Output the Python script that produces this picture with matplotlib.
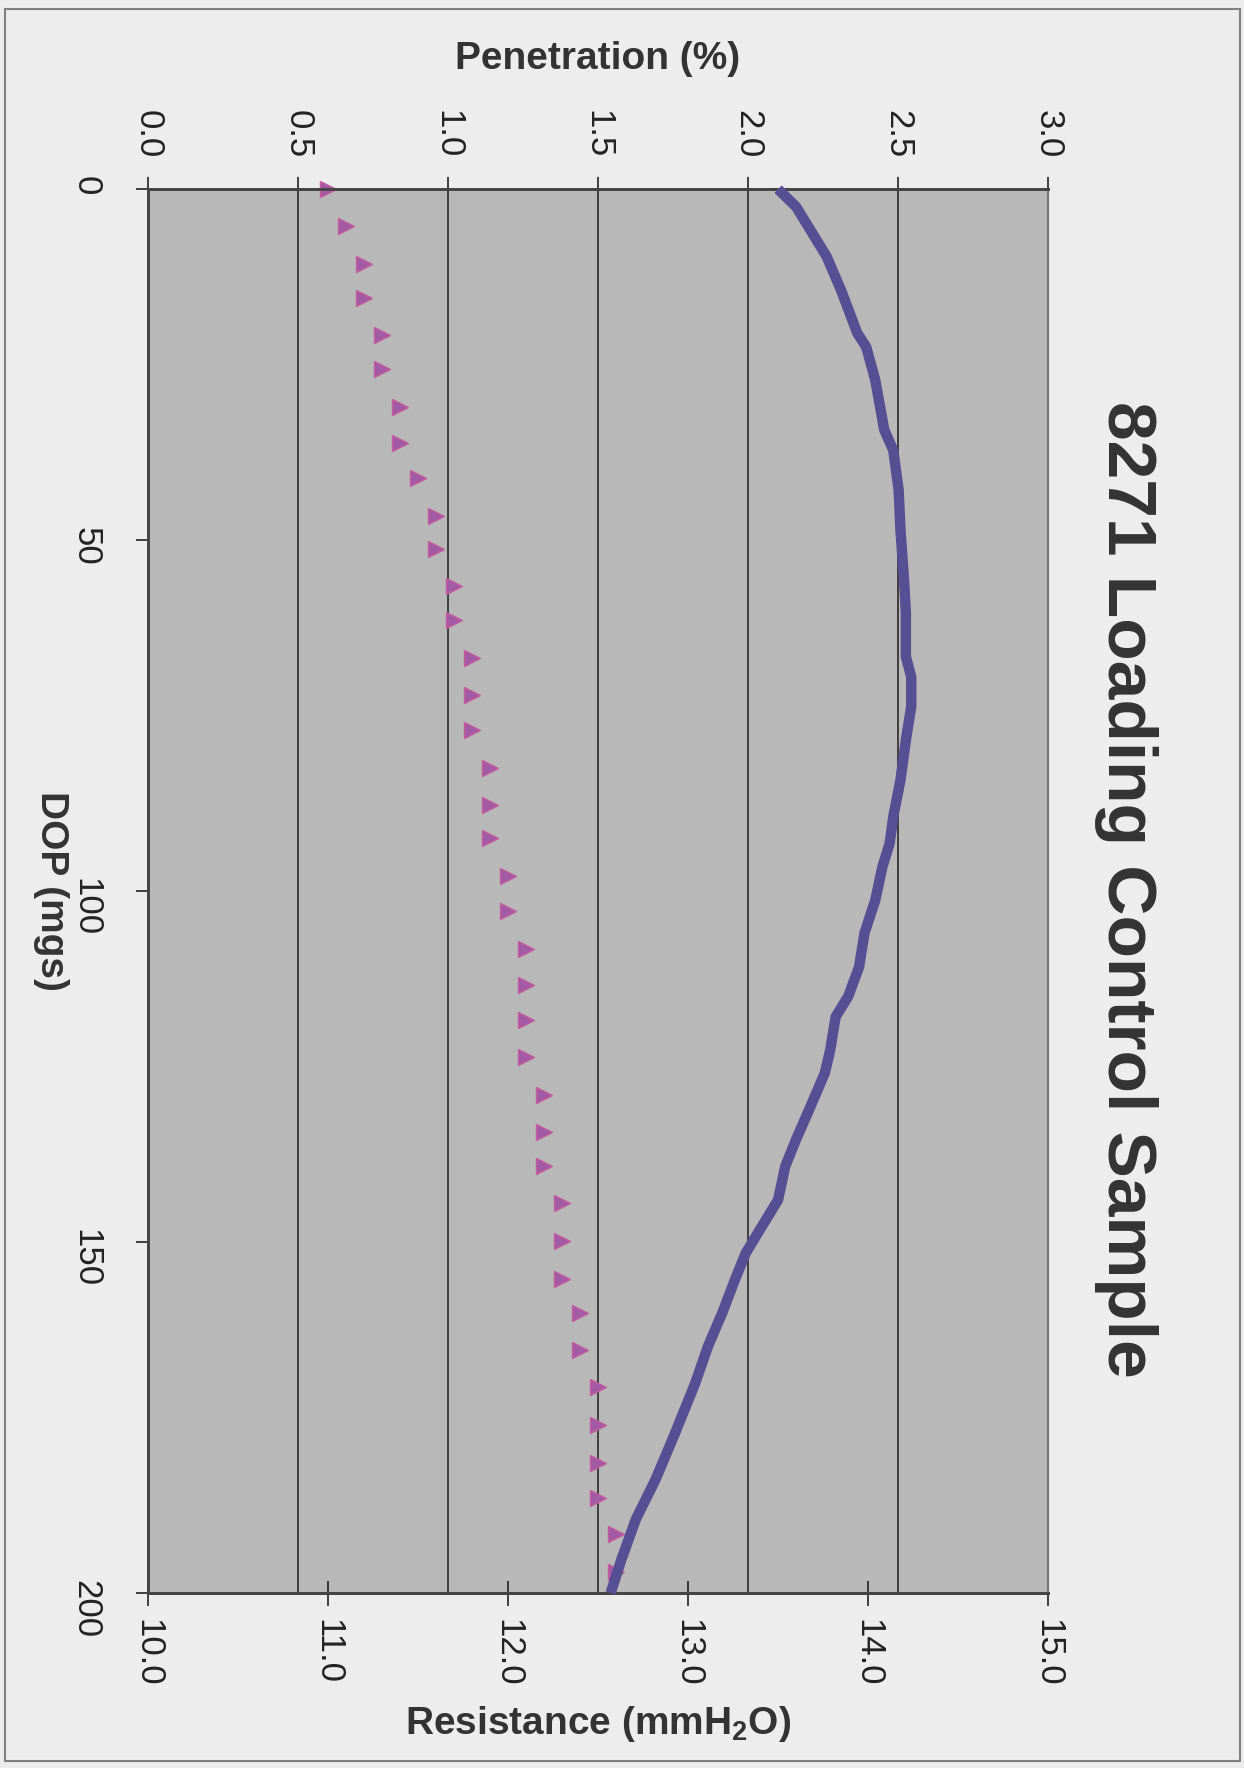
import matplotlib.pyplot as plt
from matplotlib.patches import Rectangle

plt.rcParams['font.family'] = ['Liberation Sans', 'DejaVu Sans']
plt.rcParams['mathtext.fontset'] = 'custom'
plt.rcParams['mathtext.rm'] = 'Liberation Sans:bold'
plt.rcParams['mathtext.bf'] = 'Liberation Sans:bold'
plt.rcParams['mathtext.it'] = 'Liberation Sans:bold'

# Penetration (%) vs DOP loading (mg) - triangle markers
pen_dop = [0.0, 5.3, 10.6, 15.5, 20.8, 25.6, 31.0, 36.2, 41.2, 46.5, 51.3, 56.5, 61.4,
           66.8, 72.1, 77.1, 82.5, 87.7, 92.5, 97.9, 102.8, 108.2, 113.4, 118.4, 123.7,
           129.1, 134.3, 139.2, 144.5, 149.9, 155.2, 160.1, 165.4, 170.7, 176.1, 181.5,
           186.4, 191.6, 197.0]
penetration = [0.60, 0.66, 0.72, 0.72, 0.78, 0.78, 0.84, 0.84, 0.90, 0.96, 0.96, 1.02, 1.02,
               1.08, 1.08, 1.08, 1.14, 1.14, 1.14, 1.20, 1.20, 1.26, 1.26, 1.26, 1.26,
               1.32, 1.32, 1.32, 1.38, 1.38, 1.38, 1.44, 1.44, 1.50, 1.50, 1.50,
               1.50, 1.56, 1.56]

# Resistance (mmH2O) vs DOP loading (mg) - line
res_dop = [0, 2.5, 9.6, 14.4, 20.5, 22.5, 27.2, 34.3, 37.2, 42.9, 48.6, 55.7, 60.4, 66.6,
           69.5, 73.7, 78.5, 84.2, 89.4, 93.2, 96.5, 101.3, 106.0, 110.8, 115.0, 117.9,
           122.6, 125.9, 130.7, 135.4, 139.2, 144.0, 148.2, 151.6, 155.4, 160.1, 164.9,
           170.1, 177.7, 183.8, 189.5, 195.2, 200.0]
resistance = [13.50, 13.60, 13.77, 13.85, 13.94, 13.99, 14.04, 14.09, 14.14, 14.17, 14.18,
              14.20, 14.21, 14.21, 14.24, 14.24, 14.21, 14.18, 14.14, 14.12, 14.08, 14.04,
              13.98, 13.95, 13.89, 13.82, 13.79, 13.76, 13.68, 13.60, 13.54, 13.50, 13.40,
              13.32, 13.26, 13.19, 13.11, 13.04, 12.92, 12.82, 12.71, 12.63, 12.57]

pen_ticks = [0.0, 0.5, 1.0, 1.5, 2.0, 2.5, 3.0]
res_ticks = [10.0, 11.0, 12.0, 13.0, 14.0, 15.0]
dop_ticks = [0, 50, 100, 150, 200]

fig = plt.figure(figsize=(12.44, 17.68), dpi=100)
fig.patch.set_facecolor('#ededed')
fig.patches.append(Rectangle((0.004, 0.004), 0.993, 0.991, transform=fig.transFigure,
                             fill=False, edgecolor='#808080', linewidth=1.5))

ax = fig.add_axes([0.119, 0.099, 0.7235, 0.794])
ax.set_facecolor('#b8b8b8')
ax2 = ax.twiny()

# penetration on top axis
ax.plot(penetration, pen_dop, linestyle='none', marker='>', markersize=11.5,
        markerfacecolor='#a35aa5', markeredgecolor='#c45c9e', markeredgewidth=1,
        clip_on=False, zorder=3)
ax.set_xlim(0, 3)
ax.set_ylim(200, 0)
ax.set_xticks(pen_ticks)
ax.set_xticklabels([f"{v:.1f}" for v in pen_ticks])
ax.set_yticks(dop_ticks)
ax.xaxis.tick_top()
ax.xaxis.set_label_position('top')
ax.grid(True, axis='x', color='#2a2a2a', linewidth=1.2)
ax.tick_params(axis='x', direction='out', length=9, width=1.2, pad=13,
               labelsize=25, labelrotation=-90, colors='#222222')
ax.tick_params(axis='y', direction='out', length=9, width=1.2, pad=24,
               labelsize=25, labelrotation=-90, colors='#222222')
ax.set_xlabel('Penetration (%)', fontsize=28, fontweight='bold', color='#333333', labelpad=30)
ax.set_ylabel('DOP (mgs)', fontsize=28, fontweight='bold', color='#333333',
              rotation=-90, ha='center', va='center')
ax.yaxis.set_label_coords(-0.108, 0.5)

# resistance on bottom axis
ax2.plot(resistance, res_dop, color='#574f94', linewidth=7.5, solid_capstyle='butt',
         solid_joinstyle='round', clip_on=False, zorder=4)
ax2.set_xlim(10, 15)
ax2.set_xticks(res_ticks)
ax2.set_xticklabels([f"{v:.1f}" for v in res_ticks])
ax2.xaxis.tick_bottom()
ax2.xaxis.set_label_position('bottom')
ax2.tick_params(axis='x', direction='inout', length=18, width=1.2, pad=10,
                labelsize=25, labelrotation=-90, colors='#222222')
ax2.set_xlabel('Resistance (mmH$_2$O)', fontsize=28, fontweight='bold', color='#333333',
               labelpad=12)

for a in (ax, ax2):
    for side in ('top', 'bottom', 'left'):
        a.spines[side].set_color('#444444')
        a.spines[side].set_linewidth(2)
    a.spines['right'].set_color('#777777')
    a.spines['right'].set_linewidth(1.5)

fig.text(0.905, 0.497, '8271 Loading Control Sample', rotation=-90, fontsize=50,
         fontweight='bold', color='#333333', ha='center', va='center')

fig.savefig('out.png', dpi=100, facecolor=fig.get_facecolor())
